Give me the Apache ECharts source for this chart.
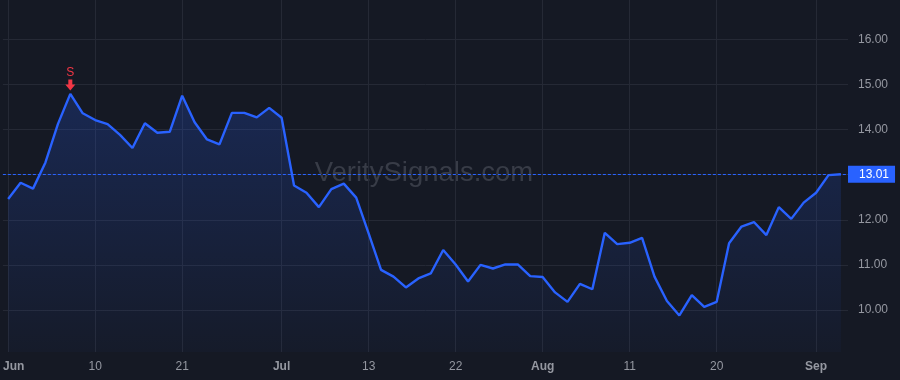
<!DOCTYPE html>
<html>
<head>
<meta charset="utf-8">
<script src="https://cdn.jsdelivr.net/npm/echarts@6/dist/echarts.min.js"></script>
<style>
html,body{margin:0;padding:0;background:#151924;}
#c{width:900px;height:380px;}
</style>
</head>
<body>
<div id="c"></div>
<script>
// Trading days Jun 1 - Sep 3, 2021
const dates = [
 '2021-06-01','2021-06-02','2021-06-03','2021-06-04','2021-06-07','2021-06-08','2021-06-09','2021-06-10','2021-06-11',
 '2021-06-14','2021-06-15','2021-06-16','2021-06-17','2021-06-18','2021-06-21','2021-06-22','2021-06-23','2021-06-24','2021-06-25',
 '2021-06-28','2021-06-29','2021-06-30',
 '2021-07-01','2021-07-02','2021-07-06','2021-07-07','2021-07-08','2021-07-09','2021-07-12','2021-07-13','2021-07-14','2021-07-15',
 '2021-07-16','2021-07-19','2021-07-20','2021-07-21','2021-07-22','2021-07-23','2021-07-26','2021-07-27','2021-07-28','2021-07-29','2021-07-30',
 '2021-08-02','2021-08-03','2021-08-04','2021-08-05','2021-08-06','2021-08-09','2021-08-10','2021-08-11','2021-08-12','2021-08-13',
 '2021-08-16','2021-08-17','2021-08-18','2021-08-19','2021-08-20','2021-08-23','2021-08-24','2021-08-25','2021-08-26','2021-08-27',
 '2021-08-30','2021-08-31',
 '2021-09-01','2021-09-02','2021-09-03'
];
const prices = [
 12.46,12.82,12.69,13.27,14.12,14.79,14.36,14.21,14.12,13.88,
 13.59,14.14,13.93,13.95,14.75,14.16,13.78,13.67,14.37,14.37,
 14.27,14.48,14.26,12.76,12.60,12.28,12.68,12.80,12.49,11.70,
 10.89,10.74,10.50,10.70,10.81,11.33,11.01,10.63,11.00,10.92,
 11.01,11.01,10.75,10.73,10.39,10.18,10.58,10.46,11.71,11.46,
 11.49,11.60,10.74,10.20,9.88,10.33,10.07,10.18,11.48,11.85,
 11.95,11.66,12.28,12.02,12.38,12.60,12.99,13.01
];
const tickDates = ['2021-06-01','2021-06-10','2021-06-21','2021-07-01','2021-07-13','2021-07-22','2021-08-02','2021-08-11','2021-08-20','2021-09-01'];
const tickLabels = ['Jun','10','21','Jul','13','22','Aug','11','20','Sep'];
const monthLabels = ['Jun','Jul','Aug','Sep'];
const yTicks = [10,11,12,13,14,15,16];
const lastPrice = 13.01;
const signalDate = '2021-06-08';
const signalText = 'S';
const watermark = 'VeritySignals.com';

const tickIdx = tickDates.map(d => dates.indexOf(d));
const labelByIdx = {};
tickIdx.forEach((ix, k) => { labelByIdx[ix] = tickLabels[k]; });
const seriesData = prices.map((v, i) => [i, v]);
const sigIdx = dates.indexOf(signalDate);

const chart = echarts.init(document.getElementById('c'), null, {renderer: 'canvas'});
const gridColor = '#252935';
const textColor = '#9598a1';
const blue = '#2962ff';
const red = '#f23645';
const font = '"Liberation Sans", Arial, sans-serif';

chart.setOption({
  backgroundColor: '#151924',
  animation: false,
  graphic: [{
    type: 'text', x: 424, y: 173, z: 0,
    style: { text: watermark, fill: '#383c47', font: '27.5px "Liberation Sans", Arial, sans-serif',
             textAlign: 'center', textVerticalAlign: 'middle' }
  }],
  grid: { left: 0, right: 52, top: 0, bottom: 28, containLabel: false },
  xAxis: {
    type: 'value', min: -0.425, max: 67.567,
    axisLine: { show: false },
    axisTick: { show: false, customValues: tickIdx },
    splitLine: { show: true, lineStyle: { color: gridColor, width: 1 } },
    axisLabel: {
      customValues: tickIdx,
      margin: 9,
      color: textColor,
      fontSize: 12,
      fontFamily: font,
      formatter: function (v) {
        const l = labelByIdx[Math.round(v)] || '';
        if (monthLabels.indexOf(l) >= 0) {
          return Math.round(v) === 0 ? '{first|' + l + '}' : '{m|' + l + '}';
        }
        return l;
      },
      rich: {
        m: { fontWeight: 'bold', color: textColor, fontSize: 12, fontFamily: font },
        first: { fontWeight: 'bold', color: textColor, fontSize: 12, fontFamily: font, padding: [0, 0, 0, 11] }
      }
    }
  },
  yAxis: {
    type: 'value', position: 'right', min: 9.069, max: 16.871,
    axisLine: { show: false },
    axisTick: { show: false, customValues: yTicks },
    splitLine: { show: true, lineStyle: { color: gridColor, width: 1 } },
    axisLabel: {
      customValues: yTicks,
      margin: 10,
      color: textColor,
      fontSize: 12,
      fontFamily: font,
      formatter: v => v.toFixed(2)
    }
  },
  series: [{
    type: 'line',
    data: seriesData,
    symbol: 'none',
    z: 3,
    lineStyle: { color: blue, width: 2.4 },
    areaStyle: {
      color: new echarts.graphic.LinearGradient(0, 0, 0, 1, [
        { offset: 0, color: 'rgba(41,98,255,0.3)' },
        { offset: 1, color: 'rgba(41,98,255,0.04)' }
      ]),
      origin: 'start'
    },
    markLine: {
      silent: true,
      symbol: 'none',
      lineStyle: { color: blue, width: 1, type: [3, 2] },
      label: {
        show: true, position: 'end', distance: 0,
        formatter: () => lastPrice.toFixed(2),
        color: '#ffffff', backgroundColor: blue,
        fontSize: 12, fontFamily: font,
        padding: [3, 6, 2, 11], lineHeight: 12, align: 'left'
      },
      data: [{ yAxis: lastPrice }]
    },
    markPoint: {
      silent: true,
      symbol: 'path://M3,0 L7,0 L7,5 L10,5 L5,11 L0,5 L3,5 Z',
      symbolSize: [10, 11],
      symbolOffset: [0, -9],
      itemStyle: { color: red },
      label: {
        show: true, position: 'top', distance: 1,
        formatter: signalText, color: red, fontSize: 12,
        fontFamily: font
      },
      data: [{ coord: [sigIdx, prices[sigIdx]] }]
    }
  }]
});
</script>
</body>
</html>
